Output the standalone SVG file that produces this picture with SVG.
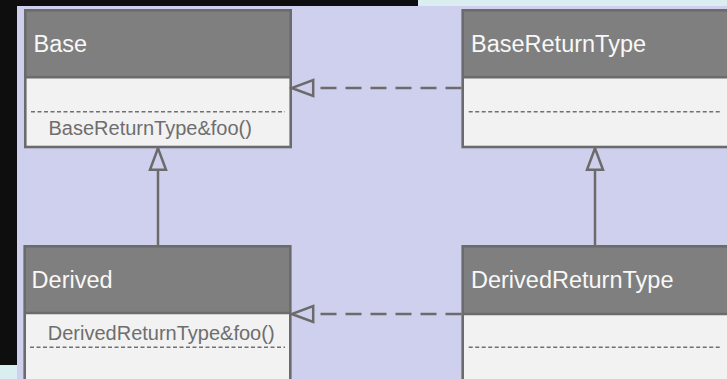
<svg xmlns="http://www.w3.org/2000/svg" width="727" height="379" viewBox="0 0 727 379">
  <style>
    .body { fill: #f2f2f2; }
    .head { fill: #7f7f7f; }
    .frame { fill: none; stroke: #6b6b6b; stroke-width: 2.6; }
    .sep { stroke: #6b6b6b; stroke-width: 2.6; }
    .dots { stroke: #707070; stroke-width: 1.6; stroke-dasharray: 4 2.5; }
    .title { font-family: "Liberation Sans", Arial, sans-serif; font-size: 23.5px; fill: #f8f8f8; }
    .member { font-family: "Liberation Sans", Arial, sans-serif; font-size: 20px; fill: #6e6e6e; }
    .link { fill: none; stroke: #6b6b6b; stroke-width: 2.5; }
    .dashed { stroke-dasharray: 16 9; }
  </style>
  <defs>
    <marker id="hollow" markerUnits="userSpaceOnUse" viewBox="-2 -2 26 20" refX="21.5" refY="8" markerWidth="26" markerHeight="20" orient="auto">
      <path d="M21.5,8 L0,0 L0,16 Z" fill="#cfcfee" stroke="#6b6b6b" stroke-width="2.5" stroke-dasharray="none" stroke-linejoin="miter"/>
    </marker>
  </defs>

  <!-- backdrop -->
  <rect x="0" y="0" width="727" height="379" fill="#cfcfee"/>
  <rect x="0" y="0" width="418" height="6" fill="#0e0e0e"/>
  <rect x="418" y="0" width="309" height="6" fill="#daeef2"/>
  <rect x="0" y="0" width="17" height="365" fill="#0e0e0e"/>
  <rect x="0" y="365" width="17" height="14" fill="#daeef2"/>

  <g id="Base">
    <rect class="body" x="25.3" y="10.3" width="265.4" height="136.7"/>
    <rect class="head" x="25.3" y="10.3" width="265.4" height="67"/>
    <line class="sep" x1="25.3" y1="77.3" x2="290.7" y2="77.3"/>
    <line class="dots" x1="31" y1="111.7" x2="285" y2="111.7"/>
    <rect class="frame" x="25.3" y="10.3" width="265.4" height="136.7"/>
    <text class="title" x="33.5" y="52">Base</text>
    <text class="member" x="48.5" y="135">BaseReturnType&amp;foo()</text>
  </g>

  <g id="BaseReturnType">
    <rect class="body" x="462.7" y="10.3" width="300" height="136.7"/>
    <rect class="head" x="462.7" y="10.3" width="300" height="67"/>
    <line class="sep" x1="462.7" y1="77.3" x2="727" y2="77.3"/>
    <line class="dots" x1="468.7" y1="111.7" x2="722" y2="111.7"/>
    <rect class="frame" x="462.7" y="10.3" width="300" height="136.7"/>
    <text class="title" x="471" y="52">BaseReturnType</text>
  </g>

  <g id="Derived">
    <rect class="body" x="24.7" y="246.3" width="265.6" height="200"/>
    <rect class="head" x="24.7" y="246.3" width="265.6" height="66.7"/>
    <line class="sep" x1="24.7" y1="313" x2="290.3" y2="313"/>
    <line class="dots" x1="30" y1="347.3" x2="285" y2="347.3"/>
    <rect class="frame" x="24.7" y="246.3" width="265.6" height="200"/>
    <text class="title" x="31.6" y="288">Derived</text>
    <text class="member" x="47.8" y="339.5">DerivedReturnType&amp;foo()</text>
  </g>

  <g id="DerivedReturnType">
    <rect class="body" x="462.7" y="246.3" width="300" height="200"/>
    <rect class="head" x="462.7" y="246.3" width="300" height="67.7"/>
    <line class="sep" x1="462.7" y1="314" x2="727" y2="314"/>
    <line class="dots" x1="468.7" y1="347.3" x2="722" y2="347.3"/>
    <rect class="frame" x="462.7" y="246.3" width="300" height="200"/>
    <text class="title" x="471" y="288">DerivedReturnType</text>
  </g>

  <g id="connectors">
    <path class="link" d="M158,245 L158,148.3" marker-end="url(#hollow)"/>
    <path class="link" d="M595,245 L595,148.3" marker-end="url(#hollow)"/>
    <path class="link dashed" d="M461.5,88 L291.7,88" marker-end="url(#hollow)"/>
    <path class="link dashed" d="M461.5,314 L291.7,314" marker-end="url(#hollow)"/>
  </g>
</svg>
